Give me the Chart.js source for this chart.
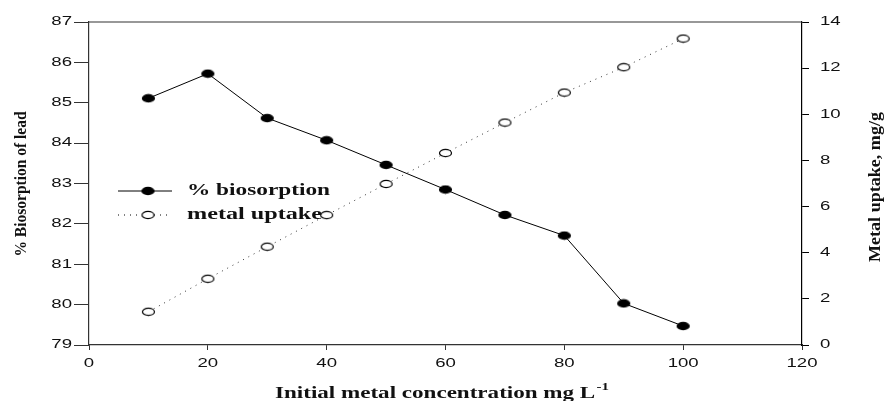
<!DOCTYPE html>
<html>
<head>
<meta charset="utf-8">
<script src="https://cdn.jsdelivr.net/npm/chart.js@4"></script>
<style>
  html, body { margin: 0; padding: 0; background: #fff; }
  #wrap { width: 885px; height: 401px; position: relative; }
</style>
</head>
<body>
<div id="wrap"><canvas id="chart" width="885" height="401"></canvas></div>
<script>
// Chart data
const concentrations = [10, 20, 30, 40, 50, 60, 70, 80, 90, 100];
const biosorption = [85.11, 85.72, 84.62, 84.07, 83.46, 82.85, 82.22, 81.71, 80.03, 79.47];
const metalUptake = [1.44, 2.87, 4.26, 5.63, 6.98, 8.32, 9.64, 10.94, 12.04, 13.28];

const xTicks = [0, 20, 40, 60, 80, 100, 120];
const leftTicks = [79, 80, 81, 82, 83, 84, 85, 86, 87];
const rightTicks = [0, 2, 4, 6, 8, 10, 12, 14];

const seriesNames = ['% biosorption', 'metal uptake'];
const leftTitle = '% Biosorption of lead';
const rightTitle = 'Metal uptake, mg/g';
const xTitle = 'Initial metal concentration mg L';
const xTitleSup = '-1';

// the original picture is stretched sideways, so markers are ellipses
function makeMarker(filled) {
    const c = document.createElement('canvas');
    c.width = 15;
    c.height = 10;
    const g = c.getContext('2d');
    g.beginPath();
    g.ellipse(7.5, 5, 6, 3.6, 0, 0, Math.PI * 2);
    g.fillStyle = filled ? '#000' : '#fff';
    g.fill();
    g.lineWidth = 1.2;
    g.strokeStyle = '#000';
    g.stroke();
    return c;
}
const filledMarker = makeMarker(true);
const openMarker = makeMarker(false);

const TICK_FONT = '12px "Liberation Sans", Arial, sans-serif';
const TITLE_FONT = 'bold 17px "Liberation Serif", "Times New Roman", serif';
const LEGEND_FONT = 'bold 16px "Liberation Serif", "Times New Roman", serif';
const TICK_STRETCH = 1.55;

// draw text squeezed/stretched to a given width
function fitText(ctx, text, x, y, width, align) {
    const w = ctx.measureText(text).width;
    ctx.save();
    ctx.translate(x, y);
    ctx.scale(width / w, 1);
    ctx.textAlign = align || 'left';
    ctx.fillText(text, 0, 0);
    ctx.restore();
}

function stretchText(ctx, text, x, y, sx, align) {
    ctx.save();
    ctx.translate(x, y);
    ctx.scale(sx, 1);
    ctx.textAlign = align;
    ctx.fillText(text, 0, 0);
    ctx.restore();
}

const decorPlugin = {
    id: 'decor',
    afterDraw(chart) {
        const ctx = chart.ctx;
        const area = chart.chartArea;
        const xs = chart.scales.x, ys = chart.scales.y, ys1 = chart.scales.y1;

        // top frame line
        ctx.save();
        ctx.strokeStyle = '#333';
        ctx.lineWidth = 1.2;
        ctx.beginPath();
        ctx.moveTo(area.left, area.top);
        ctx.lineTo(area.right, area.top);
        ctx.stroke();

        // tick labels
        ctx.fillStyle = '#111';
        ctx.font = TICK_FONT;
        ctx.textBaseline = 'middle';
        leftTicks.forEach(v => stretchText(ctx, String(v), area.left - 17, ys.getPixelForValue(v), TICK_STRETCH, 'right'));
        rightTicks.forEach(v => stretchText(ctx, String(v), area.right + 18, ys1.getPixelForValue(v), TICK_STRETCH, 'left'));
        xTicks.forEach(v => stretchText(ctx, String(v), xs.getPixelForValue(v), area.bottom + 19, TICK_STRETCH, 'center'));

        // axis titles
        ctx.font = TITLE_FONT;
        ctx.textBaseline = 'alphabetic';
        const wMain = ctx.measureText(xTitle).width;
        ctx.font = 'bold 11px "Liberation Serif", serif';
        const wSup = ctx.measureText(xTitleSup).width;
        const targetW = 334;
        const sx = targetW / (wMain + wSup + 1);
        const startX = 275;
        ctx.save();
        ctx.translate(startX, 398);
        ctx.scale(sx, 1);
        ctx.font = TITLE_FONT;
        ctx.textAlign = 'left';
        ctx.fillText(xTitle, 0, 0);
        ctx.font = 'bold 11px "Liberation Serif", serif';
        ctx.fillText(xTitleSup, wMain + 1, -8);
        ctx.restore();

        ctx.font = TITLE_FONT;
        ctx.save();
        ctx.translate(26, 184);
        ctx.rotate(-Math.PI / 2);
        fitText(ctx, leftTitle, 0, 0, 145, 'center');
        ctx.restore();

        ctx.save();
        ctx.translate(880, 187);
        ctx.rotate(-Math.PI / 2);
        fitText(ctx, rightTitle, 0, 0, 150, 'center');
        ctx.restore();

        // legend
        const lx = area.left + 29;
        const rows = [
            { y: 191, dash: [], img: filledMarker },
            { y: 215, dash: [1, 5], img: openMarker }
        ];
        rows.forEach((r, i) => {
            ctx.strokeStyle = '#000';
            ctx.lineWidth = 1;
            ctx.setLineDash(r.dash);
            ctx.beginPath();
            ctx.moveTo(lx, r.y);
            ctx.lineTo(lx + 54, r.y);
            ctx.stroke();
            ctx.setLineDash([]);
            ctx.drawImage(r.img, lx + 30 - 7.5, r.y - 5);
            ctx.font = LEGEND_FONT;
            ctx.fillStyle = '#111';
            ctx.textBaseline = 'middle';
            fitText(ctx, seriesNames[i], lx + 69, r.y, i === 0 ? 143 : 135, 'left');
        });
        ctx.restore();
    }
};

const ctx = document.getElementById('chart').getContext('2d');
const chart = new Chart(ctx, {
    type: 'line',
    data: {
        datasets: [{
            label: seriesNames[0],
            data: concentrations.map((c, i) => ({ x: c, y: biosorption[i] })),
            yAxisID: 'y',
            borderColor: '#000',
            borderWidth: 1,
            pointStyle: filledMarker,
            pointRadius: 5,
            tension: 0
        }, {
            label: seriesNames[1],
            data: concentrations.map((c, i) => ({ x: c, y: metalUptake[i] })),
            yAxisID: 'y1',
            borderColor: '#333',
            borderWidth: 1,
            borderDash: [1, 5],
            pointStyle: openMarker,
            pointRadius: 5,
            tension: 0
        }]
    },
    options: {
        responsive: false,
        animation: false,
        layout: { padding: { top: 22, left: 0, right: 0, bottom: 0 } },
        plugins: {
            legend: { display: false },
            tooltip: { enabled: false }
        },
        scales: {
            x: {
                type: 'linear',
                min: 0,
                max: 120,
                afterBuildTicks: s => { s.ticks = xTicks.map(v => ({ value: v })); },
                ticks: { color: 'rgba(0,0,0,0)' },
                grid: { drawOnChartArea: false, drawTicks: true, tickLength: 5, color: '#333' },
                border: { color: '#333', width: 1.2 },
                afterFit: s => { s.height = 56; }
            },
            y: {
                position: 'left',
                min: 79,
                max: 87,
                afterBuildTicks: s => { s.ticks = leftTicks.map(v => ({ value: v })); },
                ticks: { color: 'rgba(0,0,0,0)' },
                grid: { drawOnChartArea: false, drawTicks: true, tickLength: 15, color: '#333' },
                border: { color: '#333', width: 1.2 },
                afterFit: s => { s.width = 89; }
            },
            y1: {
                position: 'right',
                min: 0,
                max: 14,
                afterBuildTicks: s => { s.ticks = rightTicks.map(v => ({ value: v })); },
                ticks: { color: 'rgba(0,0,0,0)' },
                grid: { drawOnChartArea: false, drawTicks: true, tickLength: 7, color: '#000' },
                border: { color: '#000', width: 1.2 },
                afterFit: s => { s.width = 83; }
            }
        }
    },
    plugins: [decorPlugin]
});
</script>
</body>
</html>
